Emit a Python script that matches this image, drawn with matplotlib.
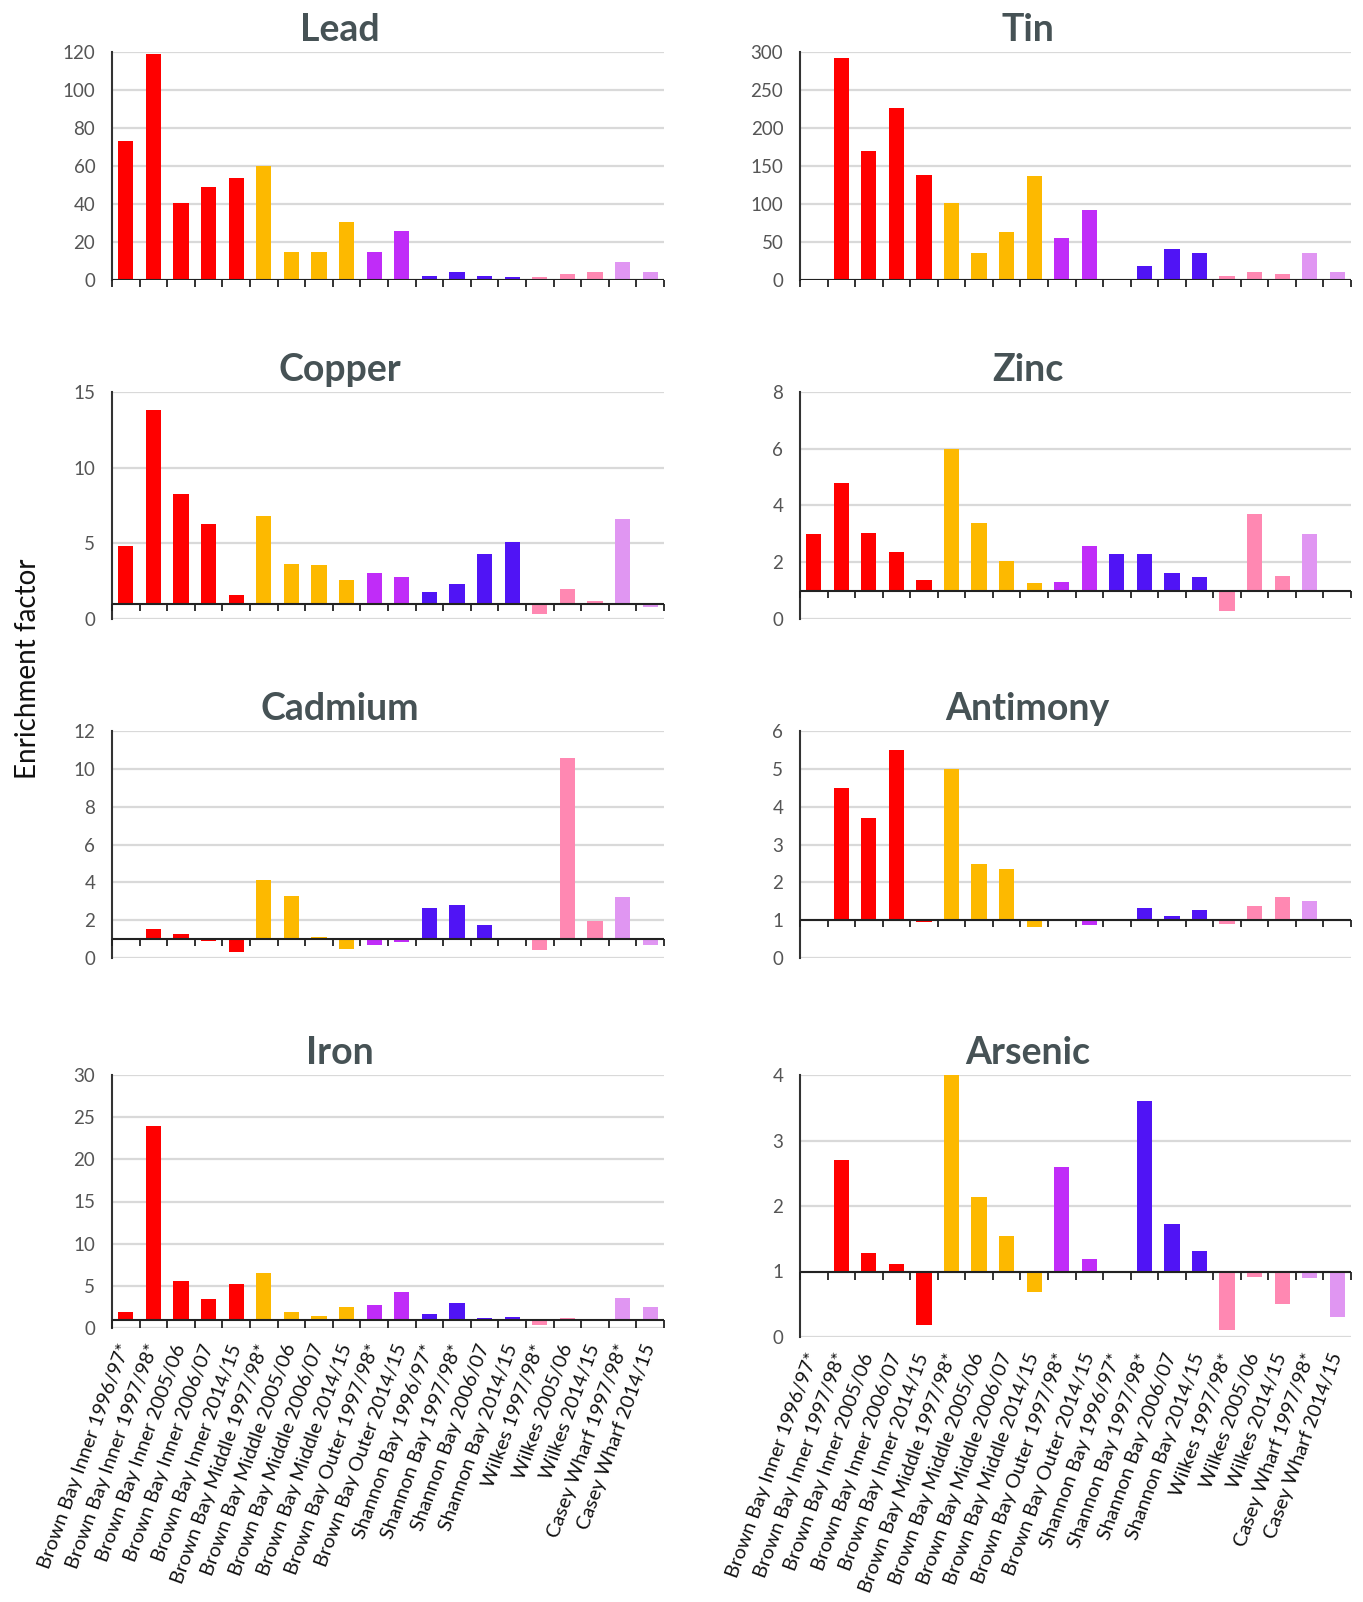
import numpy as np
import matplotlib
matplotlib.use('Agg')
import matplotlib.pyplot as plt

nan = np.nan

sites = [
    'Brown Bay Inner 1996/97*', 'Brown Bay Inner 1997/98*', 'Brown Bay Inner 2005/06',
    'Brown Bay Inner 2006/07', 'Brown Bay Inner 2014/15', 'Brown Bay Middle 1997/98*',
    'Brown Bay Middle 2005/06', 'Brown Bay Middle 2006/07', 'Brown Bay Middle 2014/15',
    'Brown Bay Outer 1997/98*', 'Brown Bay Outer 2014/15', 'Shannon Bay 1996/97*',
    'Shannon Bay 1997/98*', 'Shannon Bay 2006/07', 'Shannon Bay 2014/15',
    'Wilkes 1997/98*', 'Wilkes 2005/06', 'Wilkes 2014/15',
    'Casey Wharf 1997/98*', 'Casey Wharf 2014/15',
]

# colour per site group
site_colors = (['#ff0000'] * 5 + ['#fdb900'] * 4 + ['#c02cf8'] * 2 +
               ['#5014f5'] * 4 + ['#ff88b2'] * 3 + ['#e096f2'] * 2)

lead = [73, 119, 40.5, 49, 53.5, 60, 14.5, 14.5, 30.5, 14.5, 26, 2, 4.3, 2, 1.8, 1.4, 3, 4.3, 9.5, 4.3]
tin = [nan, 292, 170, 226, 138, 101, 36, 63, 137, 55, 92, nan, 18, 41, 36, 5, 10, 7.5, 36, 10]
copper = [4.8, 13.8, 8.25, 6.28, 1.56, 6.83, 3.63, 3.57, 2.6, 3.02, 2.75, 1.78, 2.29, 4.32, 5.09,
          0.31, 1.96, 1.21, 6.63, 0.77]
zinc = [3.0, 4.81, 3.03, 2.36, 1.36, 6.0, 3.39, 2.03, 1.28, 1.3, 2.58, 2.3, 2.3, 1.62, 1.47,
        0.29, 3.71, 1.51, 3.0, nan]
cadmium = [nan, 1.51, 1.28, 0.91, 0.32, 4.1, 3.29, 1.11, 0.49, 0.7, 0.84, 2.62, 2.79, 1.72, nan,
           0.4, 10.58, 1.95, 3.2, 0.67]
antimony = [nan, 4.5, 3.7, 5.49, 0.96, 5.0, 2.48, 2.34, 0.83, nan, 0.87, nan, 1.31, 1.11, 1.27,
            0.9, 1.38, 1.6, 1.5, nan]
iron = [1.85, 24, 5.6, 3.46, 5.24, 6.5, 1.93, 1.42, 2.44, 2.72, 4.21, 1.61, 2.91, 1.14, 1.3,
        0.35, 1.22, nan, 3.5, 2.52]
arsenic = [nan, 2.7, 1.29, 1.12, 0.18, 4.0, 2.14, 1.54, 0.69, 2.6, 1.19, nan, 3.6, 1.72, 1.31,
           0.11, 0.92, 0.5, 0.9, 0.3]

panels = [
    ('Lead', lead, 0, 120, 20),
    ('Tin', tin, 0, 300, 50),
    ('Copper', copper, 1, 15, 5),
    ('Zinc', zinc, 1, 8, 2),
    ('Cadmium', cadmium, 1, 12, 2),
    ('Antimony', antimony, 1, 6, 1),
    ('Iron', iron, 1, 30, 5),
    ('Arsenic', arsenic, 1, 4, 1),
]

plt.rcParams['font.family'] = ['Lato', 'DejaVu Sans']

W, H = 1363, 1602
fig = plt.figure(figsize=(W / 100, H / 100), dpi=100)

# axes boxes in pixels: left, top, right, bottom
col_x = [(112, 664), (800, 1351)]
row_y = [(52, 280), (392, 619), (731, 958)]
boxes = []
for r in range(3):
    for c in range(2):
        boxes.append((col_x[c][0], row_y[r][0], col_x[c][1], row_y[r][1]))
boxes.append((112, 1075, 664, 1328))
boxes.append((800, 1075, 1351, 1337))

x = np.arange(len(sites))
bounds = np.arange(len(sites) + 1) - 0.5

for i, ((name, vals, base, ymax, step), (l, t, r, b)) in enumerate(zip(panels, boxes)):
    ax = fig.add_axes([l / W, 1 - b / H, (r - l) / W, (b - t) / H])
    vals = np.array(vals, dtype=float)
    ax.bar(x, vals - base, bottom=base, width=0.55, color=site_colors, zorder=3)
    ax.set_xlim(-0.5, len(sites) - 0.5)
    ax.set_ylim(0, ymax)
    ax.set_yticks(np.arange(0, ymax + step / 2, step))
    ax.yaxis.grid(True, color='#d9d9d9', lw=1.6)
    ax.set_axisbelow(True)
    for s in ['top', 'right', 'bottom']:
        ax.spines[s].set_visible(False)
    ax.spines['left'].set_color('#333333')
    ax.spines['left'].set_linewidth(1.5)
    ax.tick_params(axis='y', length=0, pad=12, labelsize=13.5, labelcolor='#555555')

    # category axis drawn at the baseline
    ax.axhline(base, color='#222222', lw=1.5, zorder=4)
    yb = base / ymax
    ax.vlines(bounds, yb - 0.032, yb, transform=ax.get_xaxis_transform(),
              color='#222222', lw=1.3, clip_on=False, zorder=4)

    if i >= 6:
        ax.set_xticks(x)
        ax.set_xticklabels(sites, rotation=70, ha='right', va='center',
                           rotation_mode='anchor', fontsize=14.3, color='#111111')
        ax.tick_params(axis='x', length=0, pad=12)
    else:
        ax.set_xticks([])

    ax.set_title(name, x=0.413, pad=8, fontsize=27, fontweight='bold', color='#465255')

fig.text(28 / W, 1 - 669 / H, 'Enrichment factor', rotation=90, ha='center', va='center',
         fontsize=20, color='#111111')

fig.savefig('out.png', dpi=100)
plt.close(fig)
